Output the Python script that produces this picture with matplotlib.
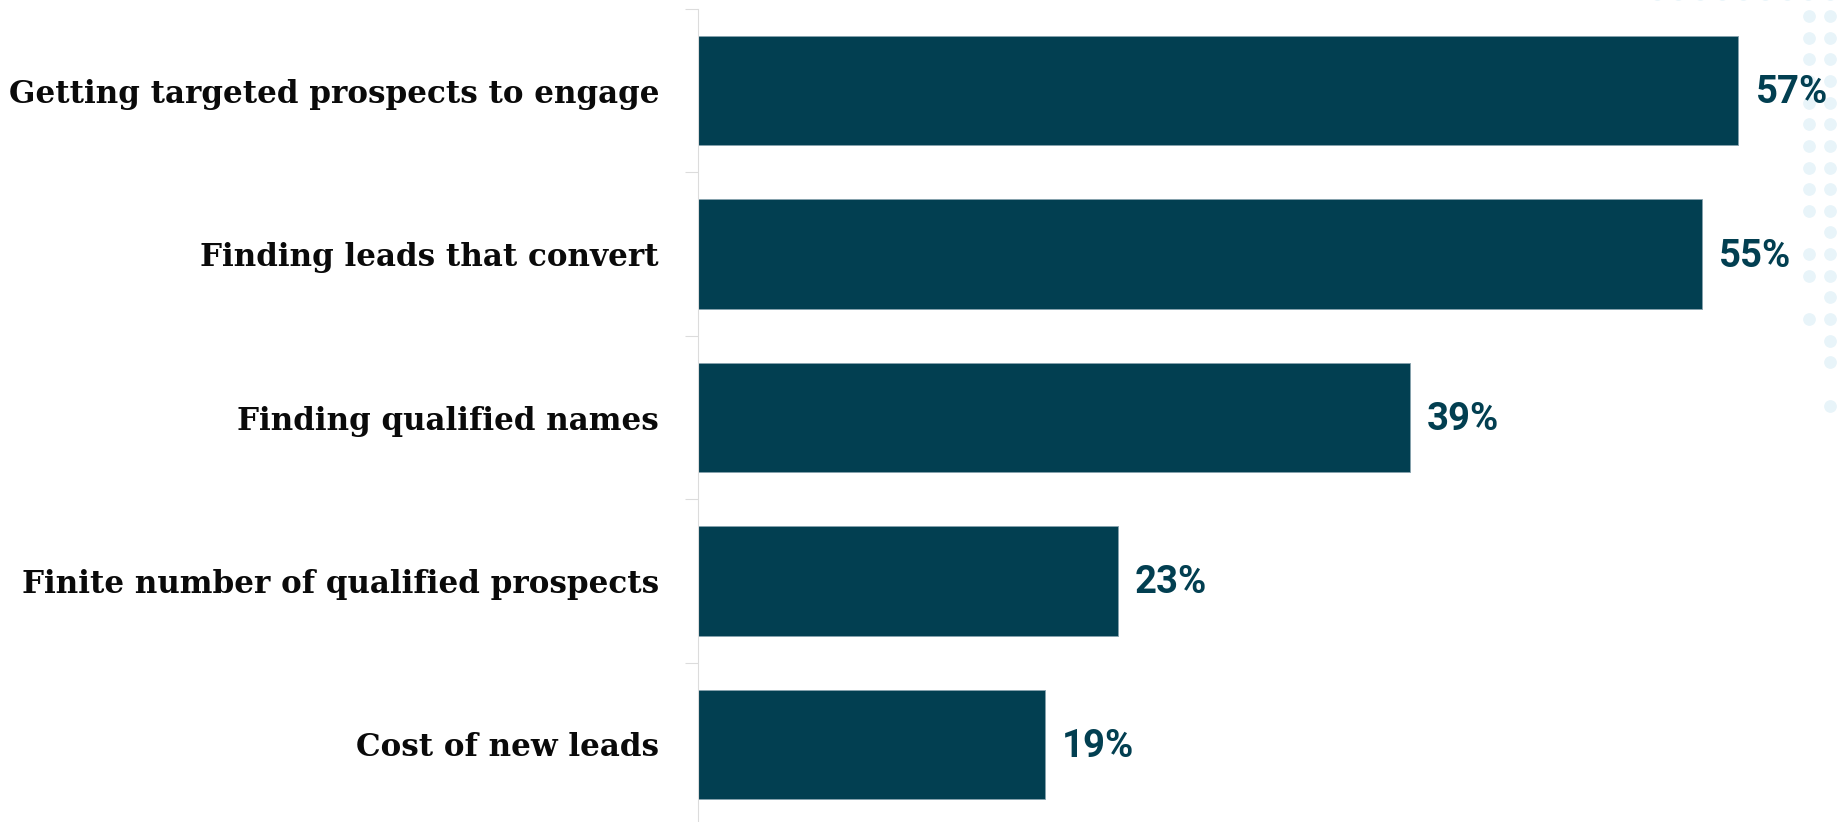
import matplotlib
matplotlib.use("Agg")
import matplotlib.pyplot as plt
import numpy as np

# Survey results: biggest lead-generation challenges
categories = [
    "Getting targeted prospects to engage",
    "Finding leads that convert",
    "Finding qualified names",
    "Finite number of qualified prospects",
    "Cost of new leads",
]
values = [57, 55, 39, 23, 19]
value_labels = ["57%", "55%", "39%", "23%", "19%"]

BAR_COLOR = "#023f51"
LABEL_COLOR = "#0a0a0a"
DOT_COLOR = "#e8f4f9"

W, H, DPI = 1843, 822, 100
fig = plt.figure(figsize=(W / DPI, H / DPI), dpi=DPI)
fig.patch.set_facecolor("white")

# Decorative dot pattern in the top-right corner (figure pixel space)
deco = fig.add_axes([0, 0, 1, 1], zorder=0)
deco.set_xlim(0, W)
deco.set_ylim(H, 0)
deco.axis("off")
step = 21.65
row_y = lambda k: 16 + step * k
dots_x, dots_y = [], []
# top row, mostly cut off by the edge
for i in range(9):
    dots_x.append(1830 - step * (8 - i))
    dots_y.append(row_y(-1))
# two vertical columns with a few gaps
for k in list(range(0, 10)) + [11, 12, 14]:
    dots_x.append(1809); dots_y.append(row_y(k))
for k in list(range(0, 17)) + [18]:
    dots_x.append(1830); dots_y.append(row_y(k))
deco.scatter(dots_x, dots_y, s=84, color=DOT_COLOR, linewidths=0)

# Main bar chart
ax_left = 698 / W
ax_top = 1 - 9 / H
ax_bottom = 1 - 826 / H
xmax = 62
ax_width = (xmax * 18.25) / W
ax = fig.add_axes([ax_left, ax_bottom, ax_width, ax_top - ax_bottom], zorder=1)
ax.patch.set_alpha(0)

y = np.arange(len(categories))
ax.barh(y, values, height=0.67, color=BAR_COLOR, edgecolor="#86a2ad",
        linewidth=0.6, zorder=2)

ax.set_xlim(0, xmax)
ax.set_ylim(len(categories) - 0.5, -0.5)

for yi, v, lab in zip(y, values, value_labels):
    ax.annotate(lab, xy=(v, yi), xytext=(12.5, -1.5), textcoords="offset points",
                ha="left", va="center", fontsize=27.5, fontweight="bold",
                family="Roboto", color=BAR_COLOR, zorder=3)

ax.set_yticks(y)
ax.set_yticklabels(categories)
ax.tick_params(axis="y", which="major", length=0, pad=28)
ax.set_yticks(np.arange(-0.5, len(categories), 1.0), minor=True)
ax.tick_params(axis="y", which="minor", length=9.5, width=0.8, color="#dcdcdc")
ax.set_xticks([])

for lbl in ax.get_yticklabels():
    lbl.set_family(["DejaVu Serif"])
    lbl.set_fontweight("bold")
    lbl.set_color(LABEL_COLOR)
    lbl.set_fontsize(22)

for side in ("top", "right", "bottom"):
    ax.spines[side].set_visible(False)
ax.spines["left"].set_color("#dcdcdc")
ax.spines["left"].set_linewidth(0.8)

# Fit the longest category label into the space left of the axis
fig.canvas.draw()
renderer = fig.canvas.get_renderer()
widest = max(l.get_window_extent(renderer).width for l in ax.get_yticklabels())
target = 650
for lbl in ax.get_yticklabels():
    lbl.set_fontsize(22 * target / widest)

fig.savefig("out.png", dpi=DPI, facecolor="white")
